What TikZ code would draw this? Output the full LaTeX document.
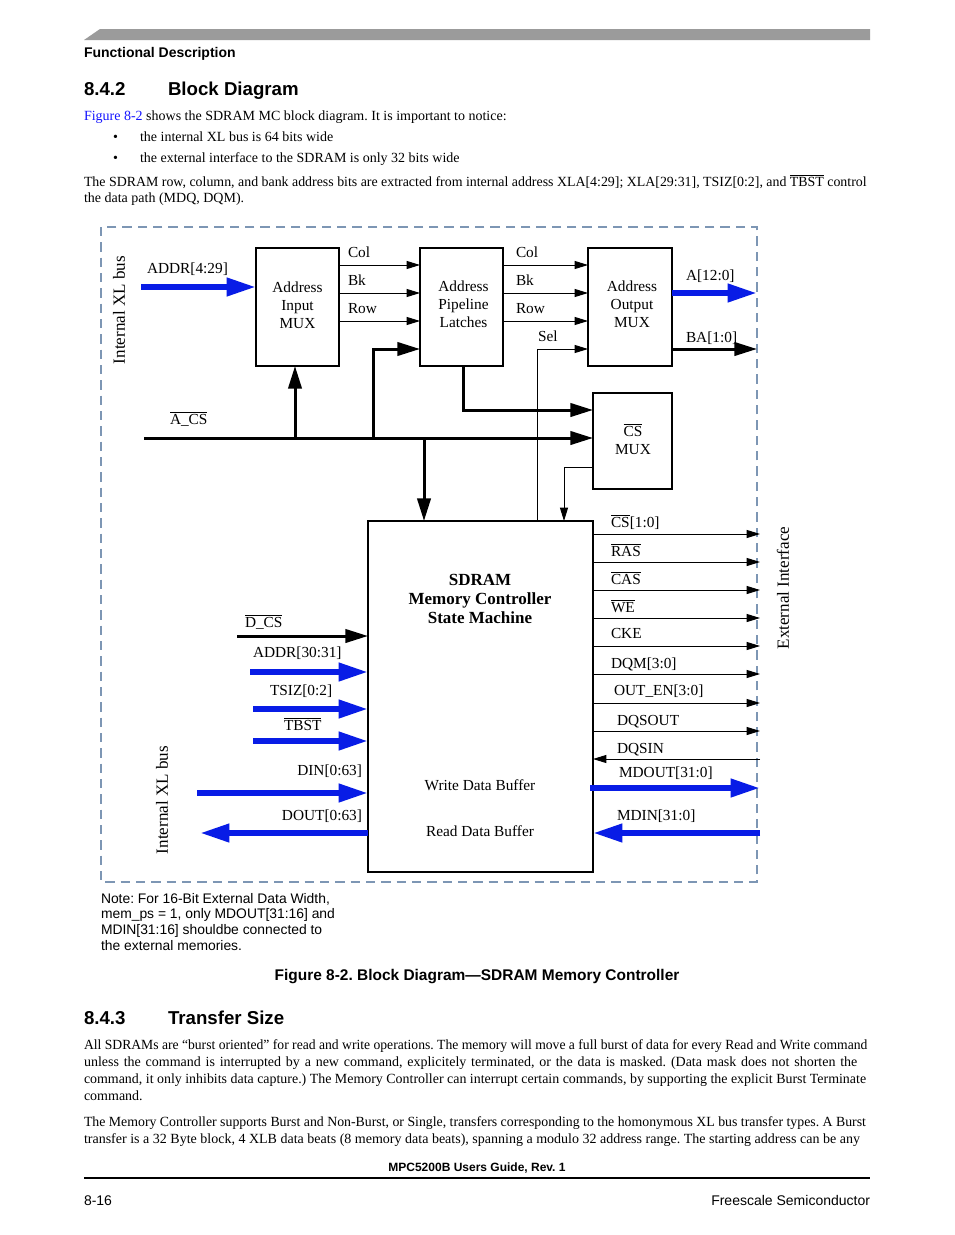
\documentclass[tikz,border=0pt]{standalone}
\usepackage{fontspec}
\usepackage{graphicx}
\setmainfont{Liberation Serif}
\setsansfont{Liberation Sans}
\usetikzlibrary{arrows.meta}
\definecolor{busblue}{RGB}{8,28,230}
\definecolor{dashgray}{RGB}{125,150,180}
\definecolor{bargray}{RGB}{155,155,155}
\definecolor{linkblue}{RGB}{20,20,255}
\frenchspacing
\newcommand\ovl[1]{$\overline{\mbox{#1}}$}
\newcommand\lblfont{\fontsize{11.5}{13.5}\selectfont}
\newcommand\rotfont{\fontsize{12.8}{14}\selectfont}
\newcommand\bodyfont{\fontsize{10.5}{12.75}\selectfont}
\newsavebox\jbox
\newcommand\jline[2][587pt]{%
  \sbox\jbox{\spaceskip=.25em plus 1em minus .1em\relax #2}%
  \ifdim\wd\jbox>#1\relax
    \resizebox{#1}{\height}{\usebox\jbox}%
  \else
    \makebox[#1][s]{\spaceskip=.25em plus 1em minus .1em\relax #2}%
  \fi}
\begin{document}
\begin{tikzpicture}[x=0.75pt,y=-0.75pt,
  lbl/.style={font=\lblfont, inner sep=0pt, outer sep=0pt},
  box/.style={draw, line width=1.5pt, inner sep=0pt, outer sep=0pt},
  boxtxt/.style={font=\lblfont, inner sep=0pt, outer sep=0pt, align=center},
  thinar/.style={line width=0.75pt, -{Triangle[length=10pt,width=6pt]}},
  thickar/.style={line width=2.25pt, -{Triangle[length=17pt,width=10pt]}},
  busar/.style={busblue, line width=4.5pt, -{Triangle[length=22pt,width=13pt]}},
  body/.style={font=\bodyfont, inner sep=0pt, outer sep=0pt, anchor=base west},
  sfb/.style={font=\sffamily\bfseries, inner sep=0pt, outer sep=0pt, anchor=base west},
  sfr/.style={font=\sffamily, inner sep=0pt, outer sep=0pt},
]
\fill[white] (0,0) rectangle (954,1235);
\useasboundingbox (0,0) rectangle (954,1235);

% ---------- page header ----------
\fill[bargray] (84,40) -- (100,29) -- (870,29) -- (870,40) -- cycle;
\node[sfb, font=\sffamily\bfseries\fontsize{10.5}{12}\selectfont] (hdr) at (84,57) {Functional Description};
\node[sfb, font=\sffamily\bfseries\fontsize{14}{16}\selectfont] (secnum) at (84,95) {8.4.2};
\node[sfb, font=\sffamily\bfseries\fontsize{14}{16}\selectfont] (sectit) at (168,95) {Block Diagram};
\node[body] (p1) at (84,120) {{\color{linkblue}Figure 8-2} shows the SDRAM MC block diagram. It is important to notice:};
\node[body] (b1) at (113,141) {\textbullet};
\node[body] (b1t) at (140,141) {the internal XL bus is 64 bits wide};
\node[body] (b2) at (113,162) {\textbullet};
\node[body] (b2t) at (140,162) {the external interface to the SDRAM is only 32 bits wide};
\node[body] (p2a) at (84,186) {\jline{The SDRAM row, column, and bank address bits are extracted from internal address XLA[4:29]; XLA[29:31], TSIZ[0:2], and \ovl{TBST} control}};
\node[body] (p2b) at (84,202) {the data path (MDQ, DQM).};

% ---------- diagram frame ----------
\draw[dashgray, line width=1.1pt, dash pattern=on 7pt off 4.5pt] (101,227) rectangle (757,882);

% ---------- boxes ----------
\node[box, minimum width=62.25pt, minimum height=88.5pt] (aim) at (297.5,307) {};
\node[boxtxt] (aimt) at (297.5,305) {Address\\Input\\MUX};
\node[box, minimum width=62.25pt, minimum height=88.5pt] (apl) at (461.5,307) {};
\node[boxtxt] (aplt) at (463.5,304) {Address\\Pipeline\\Latches};
\node[box, minimum width=63pt, minimum height=88.5pt] (aom) at (630,307) {};
\node[boxtxt] (aomt) at (632,304) {Address\\Output\\MUX};
\node[box, minimum width=59.25pt, minimum height=72pt] (csm) at (632.5,441) {};
\node[boxtxt] (csmt) at (633,439) {\ovl{CS}\\MUX};
\node[box, minimum width=168.75pt, minimum height=263.25pt] (sm) at (480.5,696.5) {};
\node[lbl, align=center, font=\fontsize{12.75}{14.25}\selectfont\bfseries] (smt) at (480,599) {SDRAM\\Memory Controller\\State Machine};
\node[lbl] (wdb) at (480,785) {Write Data Buffer};
\node[lbl] (rdb) at (480,831) {Read Data Buffer};

% ---------- rotated labels ----------
\node[lbl, font=\rotfont, rotate=90] (ixl1) at (119,310) {Internal XL bus};
\node[lbl, font=\rotfont, rotate=90] (ixl2) at (162,800) {Internal XL bus};
\node[lbl, font=\rotfont, rotate=90] (ext) at (783,588) {External Interface};

% ---------- address path ----------
\coordinate (addrin) at (141,287);
\draw[busar] (addrin) -- (aim.west |- addrin);
\node[lbl, anchor=base west] (laddr) at (147,273) {ADDR[4:29]};
\foreach \y/\t in {265/Col,293/Bk,321/Row}{
  \draw[thinar] (aim.east |- 0,\y) -- (apl.west |- 0,\y);
  \node[lbl, anchor=base west] (la\t) at (348,\y-8) {\t};
  \draw[thinar] (apl.east |- 0,\y) -- (aom.west |- 0,\y);
  \node[lbl, anchor=base west] (lb\t) at (516,\y-8) {\t};
}
\draw[thinar] (sm.north -| 537,0) |- (aom.west |- 0,349);
\node[lbl, anchor=base west] (lsel) at (538,341) {Sel};
\coordinate (aout) at (757,293);
\draw[busar] (aom.east |- aout) -- (aout);
\node[lbl, anchor=base west] (la12) at (686,280) {A[12:0]};
\coordinate (baout) at (757,349);
\draw[thickar] (aom.east |- baout) -- (baout);
\node[lbl, anchor=base west] (lba) at (686,342) {BA[1:0]};

% ---------- A_CS bus ----------
\coordinate (acs) at (144,438);
\draw[thickar] (acs) -- (csm.west |- acs);
\node[lbl, anchor=base west] (lacs) at (170,424) {\ovl{A\_CS}};
\draw[thickar] (acs -| 295,0) -- (aim.south -| 295,0);
\draw[thickar] (acs -| 373,0) |- (apl.west |- 0,349);
\draw[thickar] (acs -| 424,0) -- (sm.north -| 424,0);
\draw[thickar] (apl.south -| 463,0) |- (csm.west |- 0,410);
\draw[thinar] (csm.west |- 0,467) -| (sm.north -| 564,0);

% ---------- external outputs ----------
\foreach \n/\y/\x/\d/\t in {cs/534/611/7/{\ovl{CS}[1:0]},ras/562/611/6/{\ovl{RAS}},cas/590/611/6/{\ovl{CAS}},we/618/611/6/{\ovl{WE}},cke/646/611/8/{CKE},dqm/674/611/6/{DQM[3:0]},oen/703/614/8/{OUT\_EN[3:0]},dqso/731/617/6/{DQSOUT}}{
  \coordinate (e\n) at (760,\y);
  \draw[thinar] (sm.east |- e\n) -- (e\n);
  \node[lbl, anchor=base west] (l\n) at (\x,\y-\d) {\t};
}
\coordinate (edqsi) at (760,759);
\draw[thinar] (edqsi) -- (sm.east |- edqsi);
\node[lbl, anchor=base west] (ldqsi) at (617,753) {DQSIN};
\coordinate (emdo) at (760,788);
\draw[busar] ([xshift=-2pt]sm.east |- emdo) -- (emdo);
\node[lbl, anchor=base west] (lmdo) at (619,777) {MDOUT[31:0]};
\coordinate (emdi) at (760,833);
\draw[busar] (emdi) -- (sm.east |- emdi);
\node[lbl, anchor=base west] (lmdi) at (617,820) {MDIN[31:0]};

% ---------- internal inputs ----------
\coordinate (idcs) at (237,636);
\draw[thickar] (idcs) -- (sm.west |- idcs);
\node[lbl, anchor=base west] (ldcs) at (245,627) {\ovl{D\_CS}};
\coordinate (iaddr) at (250,672);
\draw[busar] (iaddr) -- (sm.west |- iaddr);
\node[lbl, anchor=base west] (laddr2) at (253,657) {ADDR[30:31]};
\coordinate (itsiz) at (253,709);
\draw[busar] (itsiz) -- (sm.west |- itsiz);
\node[lbl, anchor=base west] (ltsiz) at (270,695) {TSIZ[0:2]};
\coordinate (itbst) at (253,741);
\draw[busar] (itbst) -- (sm.west |- itbst);
\node[lbl, anchor=base west] (ltbst) at (284,730) {\ovl{TBST}};
\coordinate (idin) at (197,793);
\draw[busar] (idin) -- (sm.west |- idin);
\node[lbl, anchor=base east] (ldin) at (362,775) {DIN[0:63]};
\coordinate (idout) at (200,833);
\draw[busar] (sm.west |- idout) -- (idout);
\node[lbl, anchor=base east] (ldout) at (362,820) {DOUT[0:63]};

% ---------- note and caption ----------
\node[sfr, anchor=north west, align=left, font=\sffamily\fontsize{10.4}{11.8}\selectfont] (note) at (101,893) {Note: For 16-Bit External Data Width,\\mem\_ps = 1, only MDOUT[31:16] and\\MDIN[31:16] shouldbe connected to\\the external memories.};
\node[sfb, anchor=base, font=\sffamily\bfseries\fontsize{11.6}{13}\selectfont] (cap) at (477,980) {Figure 8-2. Block Diagram—SDRAM Memory Controller};

% ---------- section 8.4.3 ----------
\node[sfb, font=\sffamily\bfseries\fontsize{14}{16}\selectfont] (secnum2) at (84,1024) {8.4.3};
\node[sfb, font=\sffamily\bfseries\fontsize{14}{16}\selectfont] (sectit2) at (168,1024) {Transfer Size};
\node[body] (q1) at (84,1049) {\jline[587.5pt]{All SDRAMs are “burst oriented” for read and write operations. The memory will move a full burst of data for every Read and Write command}};
\node[body] (q2) at (84,1066) {\jline[580pt]{unless the command is interrupted by a new command, explicitely terminated, or the data is masked. (Data mask does not shorten the}};
\node[body] (q3) at (84,1083) {\jline[586.5pt]{command, it only inhibits data capture.) The Memory Controller can interrupt certain commands, by supporting the explicit Burst Terminate}};
\node[body] (q4) at (84,1100) {command.};
\node[body] (q5) at (84,1126) {\jline[586.5pt]{The Memory Controller supports Burst and Non-Burst, or Single, transfers corresponding to the homonymous XL bus transfer types. A Burst}};
\node[body] (q6) at (84,1143) {\jline[582pt]{transfer is a 32 Byte block, 4 XLB data beats (8 memory data beats), spanning a modulo 32 address range. The starting address can be any}};

% ---------- footer ----------
\node[sfb, anchor=base, font=\sffamily\bfseries\fontsize{9}{11}\selectfont] (foot) at (477,1171) {MPC5200B Users Guide, Rev. 1};
\coordinate (fl) at (84,1178);
\coordinate (fr) at (870,1178);
\draw[line width=0.9pt] (fl) -- (fr);
\node[sfr, anchor=base west, font=\sffamily\fontsize{10.5}{12}\selectfont] (pg) at (84,1205) {8-16};
\node[sfr, anchor=base east, font=\sffamily\fontsize{10.5}{12}\selectfont] (fs) at (870,1205) {Freescale Semiconductor};
\end{tikzpicture}
\end{document}
